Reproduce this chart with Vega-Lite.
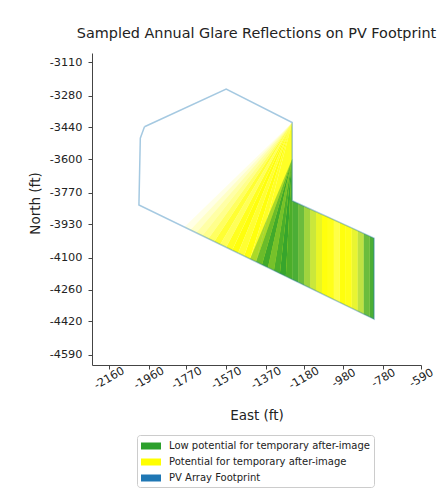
{
  "$schema": "https://vega.github.io/schema/vega-lite/v6.json",
  "autosize": "none",
  "width": 329,
  "height": 312,
  "padding": {"left": 92, "top": 53, "right": 23, "bottom": 134},
  "background": "white",
  "config": {"view": {"stroke": null}},
  "title": {"text": "Sampled Annual Glare Reflections on PV Footprint", "font": "DejaVu Sans", "fontSize": 14.4, "fontWeight": "normal", "color": "#222", "anchor": "middle", "offset": 12},
  "datasets": {
    "glare": [
      {"poly": "y0", "glare": "Potential for temporary after-image", "density": 0.1, "order": 1, "east": -1238, "north": -3415},
      {"poly": "y0", "glare": "Potential for temporary after-image", "density": 0.1, "order": 2, "east": -1780, "north": -3944},
      {"poly": "y0", "glare": "Potential for temporary after-image", "density": 0.1, "order": 3, "east": -1750, "north": -3958.5},
      {"poly": "y1", "glare": "Potential for temporary after-image", "density": 0.22, "order": 1, "east": -1238, "north": -3415},
      {"poly": "y1", "glare": "Potential for temporary after-image", "density": 0.22, "order": 2, "east": -1750, "north": -3958.5},
      {"poly": "y1", "glare": "Potential for temporary after-image", "density": 0.22, "order": 3, "east": -1720, "north": -3973.2},
      {"poly": "y2", "glare": "Potential for temporary after-image", "density": 0.35, "order": 1, "east": -1238, "north": -3415},
      {"poly": "y2", "glare": "Potential for temporary after-image", "density": 0.35, "order": 2, "east": -1720, "north": -3973.2},
      {"poly": "y2", "glare": "Potential for temporary after-image", "density": 0.35, "order": 3, "east": -1690, "north": -3987.9},
      {"poly": "y3", "glare": "Potential for temporary after-image", "density": 0.45, "order": 1, "east": -1238, "north": -3415},
      {"poly": "y3", "glare": "Potential for temporary after-image", "density": 0.45, "order": 2, "east": -1690, "north": -3987.9},
      {"poly": "y3", "glare": "Potential for temporary after-image", "density": 0.45, "order": 3, "east": -1660, "north": -4002.5},
      {"poly": "y4", "glare": "Potential for temporary after-image", "density": 0.62, "order": 1, "east": -1238, "north": -3415},
      {"poly": "y4", "glare": "Potential for temporary after-image", "density": 0.62, "order": 2, "east": -1660, "north": -4002.5},
      {"poly": "y4", "glare": "Potential for temporary after-image", "density": 0.62, "order": 3, "east": -1630, "north": -4017.2},
      {"poly": "y5", "glare": "Potential for temporary after-image", "density": 0.8, "order": 1, "east": -1238, "north": -3415},
      {"poly": "y5", "glare": "Potential for temporary after-image", "density": 0.8, "order": 2, "east": -1630, "north": -4017.2},
      {"poly": "y5", "glare": "Potential for temporary after-image", "density": 0.8, "order": 3, "east": -1600, "north": -4031.8},
      {"poly": "y6", "glare": "Potential for temporary after-image", "density": 0.65, "order": 1, "east": -1238, "north": -3415},
      {"poly": "y6", "glare": "Potential for temporary after-image", "density": 0.65, "order": 2, "east": -1600, "north": -4031.8},
      {"poly": "y6", "glare": "Potential for temporary after-image", "density": 0.65, "order": 3, "east": -1570, "north": -4046.5},
      {"poly": "y7", "glare": "Potential for temporary after-image", "density": 0.88, "order": 1, "east": -1238, "north": -3415},
      {"poly": "y7", "glare": "Potential for temporary after-image", "density": 0.88, "order": 2, "east": -1570, "north": -4046.5},
      {"poly": "y7", "glare": "Potential for temporary after-image", "density": 0.88, "order": 3, "east": -1540, "north": -4061.2},
      {"poly": "y8", "glare": "Potential for temporary after-image", "density": 0.95, "order": 1, "east": -1238, "north": -3415},
      {"poly": "y8", "glare": "Potential for temporary after-image", "density": 0.95, "order": 2, "east": -1540, "north": -4061.2},
      {"poly": "y8", "glare": "Potential for temporary after-image", "density": 0.95, "order": 3, "east": -1510, "north": -4075.8},
      {"poly": "y9", "glare": "Potential for temporary after-image", "density": 0.8, "order": 1, "east": -1238, "north": -3415},
      {"poly": "y9", "glare": "Potential for temporary after-image", "density": 0.8, "order": 2, "east": -1510, "north": -4075.8},
      {"poly": "y9", "glare": "Potential for temporary after-image", "density": 0.8, "order": 3, "east": -1480, "north": -4090.5},
      {"poly": "y10", "glare": "Potential for temporary after-image", "density": 0.95, "order": 1, "east": -1238, "north": -3415},
      {"poly": "y10", "glare": "Potential for temporary after-image", "density": 0.95, "order": 2, "east": -1480, "north": -4090.5},
      {"poly": "y10", "glare": "Potential for temporary after-image", "density": 0.95, "order": 3, "east": -1450, "north": -4105.1},
      {"poly": "y11", "glare": "Potential for temporary after-image", "density": 0.85, "order": 1, "east": -1238, "north": -3415},
      {"poly": "y11", "glare": "Potential for temporary after-image", "density": 0.85, "order": 2, "east": -1450, "north": -4105.1},
      {"poly": "y11", "glare": "Potential for temporary after-image", "density": 0.85, "order": 3, "east": -1420, "north": -4119.8},
      {"poly": "y12", "glare": "Potential for temporary after-image", "density": 0.85, "order": 1, "east": -1238, "north": -3415},
      {"poly": "y12", "glare": "Potential for temporary after-image", "density": 0.85, "order": 2, "east": -1420, "north": -4119.8},
      {"poly": "y12", "glare": "Potential for temporary after-image", "density": 0.85, "order": 3, "east": -1238, "north": -4208.7},
      {"poly": "g0", "glare": "Low potential for temporary after-image", "density": 0.4, "order": 1, "east": -1238, "north": -3600},
      {"poly": "g0", "glare": "Low potential for temporary after-image", "density": 0.4, "order": 2, "east": -1450, "north": -4105.1},
      {"poly": "g0", "glare": "Low potential for temporary after-image", "density": 0.4, "order": 3, "east": -1420, "north": -4119.8},
      {"poly": "g1", "glare": "Low potential for temporary after-image", "density": 0.7, "order": 1, "east": -1238, "north": -3600},
      {"poly": "g1", "glare": "Low potential for temporary after-image", "density": 0.7, "order": 2, "east": -1420, "north": -4119.8},
      {"poly": "g1", "glare": "Low potential for temporary after-image", "density": 0.7, "order": 3, "east": -1390, "north": -4134.4},
      {"poly": "g2", "glare": "Low potential for temporary after-image", "density": 0.9, "order": 1, "east": -1238, "north": -3600},
      {"poly": "g2", "glare": "Low potential for temporary after-image", "density": 0.9, "order": 2, "east": -1390, "north": -4134.4},
      {"poly": "g2", "glare": "Low potential for temporary after-image", "density": 0.9, "order": 3, "east": -1360, "north": -4149.1},
      {"poly": "g3", "glare": "Low potential for temporary after-image", "density": 0.65, "order": 1, "east": -1238, "north": -3600},
      {"poly": "g3", "glare": "Low potential for temporary after-image", "density": 0.65, "order": 2, "east": -1360, "north": -4149.1},
      {"poly": "g3", "glare": "Low potential for temporary after-image", "density": 0.65, "order": 3, "east": -1330, "north": -4163.8},
      {"poly": "g4", "glare": "Low potential for temporary after-image", "density": 0.85, "order": 1, "east": -1238, "north": -3600},
      {"poly": "g4", "glare": "Low potential for temporary after-image", "density": 0.85, "order": 2, "east": -1330, "north": -4163.8},
      {"poly": "g4", "glare": "Low potential for temporary after-image", "density": 0.85, "order": 3, "east": -1300, "north": -4178.4},
      {"poly": "g5", "glare": "Low potential for temporary after-image", "density": 0.95, "order": 1, "east": -1238, "north": -3600},
      {"poly": "g5", "glare": "Low potential for temporary after-image", "density": 0.95, "order": 2, "east": -1300, "north": -4178.4},
      {"poly": "g5", "glare": "Low potential for temporary after-image", "density": 0.95, "order": 3, "east": -1270, "north": -4193.1},
      {"poly": "g6", "glare": "Low potential for temporary after-image", "density": 0.85, "order": 1, "east": -1238, "north": -3600},
      {"poly": "g6", "glare": "Low potential for temporary after-image", "density": 0.85, "order": 2, "east": -1270, "north": -4193.1},
      {"poly": "g6", "glare": "Low potential for temporary after-image", "density": 0.85, "order": 3, "east": -1238, "north": -4208.7},

      {"poly": "py0", "glare": "Potential for temporary after-image", "density": 0.55, "order": 1, "east": -1238, "north": -4208.7},
      {"poly": "py0", "glare": "Potential for temporary after-image", "density": 0.55, "order": 2, "east": -1208, "north": -4223.4},
      {"poly": "py0", "glare": "Potential for temporary after-image", "density": 0.55, "order": 3, "east": -1208, "north": -3824.8},
      {"poly": "py0", "glare": "Potential for temporary after-image", "density": 0.55, "order": 4, "east": -1238, "north": -3811},
      {"poly": "py1", "glare": "Potential for temporary after-image", "density": 0.6, "order": 1, "east": -1208, "north": -4223.4},
      {"poly": "py1", "glare": "Potential for temporary after-image", "density": 0.6, "order": 2, "east": -1178, "north": -4238.0},
      {"poly": "py1", "glare": "Potential for temporary after-image", "density": 0.6, "order": 3, "east": -1178, "north": -3838.5},
      {"poly": "py1", "glare": "Potential for temporary after-image", "density": 0.6, "order": 4, "east": -1208, "north": -3824.8},
      {"poly": "py2", "glare": "Potential for temporary after-image", "density": 0.7, "order": 1, "east": -1178, "north": -4238.0},
      {"poly": "py2", "glare": "Potential for temporary after-image", "density": 0.7, "order": 2, "east": -1148, "north": -4252.7},
      {"poly": "py2", "glare": "Potential for temporary after-image", "density": 0.7, "order": 3, "east": -1148, "north": -3852.3},
      {"poly": "py2", "glare": "Potential for temporary after-image", "density": 0.7, "order": 4, "east": -1178, "north": -3838.5},
      {"poly": "py3", "glare": "Potential for temporary after-image", "density": 0.75, "order": 1, "east": -1148, "north": -4252.7},
      {"poly": "py3", "glare": "Potential for temporary after-image", "density": 0.75, "order": 2, "east": -1118, "north": -4267.3},
      {"poly": "py3", "glare": "Potential for temporary after-image", "density": 0.75, "order": 3, "east": -1118, "north": -3866.0},
      {"poly": "py3", "glare": "Potential for temporary after-image", "density": 0.75, "order": 4, "east": -1148, "north": -3852.3},
      {"poly": "py4", "glare": "Potential for temporary after-image", "density": 0.85, "order": 1, "east": -1118, "north": -4267.3},
      {"poly": "py4", "glare": "Potential for temporary after-image", "density": 0.85, "order": 2, "east": -1088, "north": -4282.0},
      {"poly": "py4", "glare": "Potential for temporary after-image", "density": 0.85, "order": 3, "east": -1088, "north": -3879.8},
      {"poly": "py4", "glare": "Potential for temporary after-image", "density": 0.85, "order": 4, "east": -1118, "north": -3866.0},
      {"poly": "py5", "glare": "Potential for temporary after-image", "density": 0.95, "order": 1, "east": -1088, "north": -4282.0},
      {"poly": "py5", "glare": "Potential for temporary after-image", "density": 0.95, "order": 2, "east": -1058, "north": -4296.7},
      {"poly": "py5", "glare": "Potential for temporary after-image", "density": 0.95, "order": 3, "east": -1058, "north": -3893.6},
      {"poly": "py5", "glare": "Potential for temporary after-image", "density": 0.95, "order": 4, "east": -1088, "north": -3879.8},
      {"poly": "py6", "glare": "Potential for temporary after-image", "density": 0.9, "order": 1, "east": -1058, "north": -4296.7},
      {"poly": "py6", "glare": "Potential for temporary after-image", "density": 0.9, "order": 2, "east": -1028, "north": -4311.3},
      {"poly": "py6", "glare": "Potential for temporary after-image", "density": 0.9, "order": 3, "east": -1028, "north": -3907.3},
      {"poly": "py6", "glare": "Potential for temporary after-image", "density": 0.9, "order": 4, "east": -1058, "north": -3893.6},
      {"poly": "py7", "glare": "Potential for temporary after-image", "density": 0.72, "order": 1, "east": -1028, "north": -4311.3},
      {"poly": "py7", "glare": "Potential for temporary after-image", "density": 0.72, "order": 2, "east": -998, "north": -4326.0},
      {"poly": "py7", "glare": "Potential for temporary after-image", "density": 0.72, "order": 3, "east": -998, "north": -3921.1},
      {"poly": "py7", "glare": "Potential for temporary after-image", "density": 0.72, "order": 4, "east": -1028, "north": -3907.3},
      {"poly": "py8", "glare": "Potential for temporary after-image", "density": 0.95, "order": 1, "east": -998, "north": -4326.0},
      {"poly": "py8", "glare": "Potential for temporary after-image", "density": 0.95, "order": 2, "east": -968, "north": -4340.6},
      {"poly": "py8", "glare": "Potential for temporary after-image", "density": 0.95, "order": 3, "east": -968, "north": -3934.8},
      {"poly": "py8", "glare": "Potential for temporary after-image", "density": 0.95, "order": 4, "east": -998, "north": -3921.1},
      {"poly": "py9", "glare": "Potential for temporary after-image", "density": 0.9, "order": 1, "east": -968, "north": -4340.6},
      {"poly": "py9", "glare": "Potential for temporary after-image", "density": 0.9, "order": 2, "east": -938, "north": -4355.3},
      {"poly": "py9", "glare": "Potential for temporary after-image", "density": 0.9, "order": 3, "east": -938, "north": -3948.6},
      {"poly": "py9", "glare": "Potential for temporary after-image", "density": 0.9, "order": 4, "east": -968, "north": -3934.8},
      {"poly": "py10", "glare": "Potential for temporary after-image", "density": 0.8, "order": 1, "east": -938, "north": -4355.3},
      {"poly": "py10", "glare": "Potential for temporary after-image", "density": 0.8, "order": 2, "east": -908, "north": -4369.9},
      {"poly": "py10", "glare": "Potential for temporary after-image", "density": 0.8, "order": 3, "east": -908, "north": -3962.4},
      {"poly": "py10", "glare": "Potential for temporary after-image", "density": 0.8, "order": 4, "east": -938, "north": -3948.6},
      {"poly": "py11", "glare": "Potential for temporary after-image", "density": 0.7, "order": 1, "east": -908, "north": -4369.9},
      {"poly": "py11", "glare": "Potential for temporary after-image", "density": 0.7, "order": 2, "east": -878, "north": -4384.6},
      {"poly": "py11", "glare": "Potential for temporary after-image", "density": 0.7, "order": 3, "east": -878, "north": -3976.1},
      {"poly": "py11", "glare": "Potential for temporary after-image", "density": 0.7, "order": 4, "east": -908, "north": -3962.4},
      {"poly": "py12", "glare": "Potential for temporary after-image", "density": 0.6, "order": 1, "east": -878, "north": -4384.6},
      {"poly": "py12", "glare": "Potential for temporary after-image", "density": 0.6, "order": 2, "east": -848, "north": -4399.3},
      {"poly": "py12", "glare": "Potential for temporary after-image", "density": 0.6, "order": 3, "east": -848, "north": -3989.9},
      {"poly": "py12", "glare": "Potential for temporary after-image", "density": 0.6, "order": 4, "east": -878, "north": -3976.1},
      {"poly": "py13", "glare": "Potential for temporary after-image", "density": 0.55, "order": 1, "east": -848, "north": -4399.3},
      {"poly": "py13", "glare": "Potential for temporary after-image", "density": 0.55, "order": 2, "east": -826, "north": -4410.0},
      {"poly": "py13", "glare": "Potential for temporary after-image", "density": 0.55, "order": 3, "east": -826, "north": -4000.0},
      {"poly": "py13", "glare": "Potential for temporary after-image", "density": 0.55, "order": 4, "east": -848, "north": -3989.9},

      {"poly": "pg0", "glare": "Low potential for temporary after-image", "density": 0.85, "order": 1, "east": -1238, "north": -4208.7},
      {"poly": "pg0", "glare": "Low potential for temporary after-image", "density": 0.85, "order": 2, "east": -1208, "north": -4223.4},
      {"poly": "pg0", "glare": "Low potential for temporary after-image", "density": 0.85, "order": 3, "east": -1208, "north": -3824.8},
      {"poly": "pg0", "glare": "Low potential for temporary after-image", "density": 0.85, "order": 4, "east": -1238, "north": -3811},
      {"poly": "pg1", "glare": "Low potential for temporary after-image", "density": 0.7, "order": 1, "east": -1208, "north": -4223.4},
      {"poly": "pg1", "glare": "Low potential for temporary after-image", "density": 0.7, "order": 2, "east": -1178, "north": -4238.0},
      {"poly": "pg1", "glare": "Low potential for temporary after-image", "density": 0.7, "order": 3, "east": -1178, "north": -3838.5},
      {"poly": "pg1", "glare": "Low potential for temporary after-image", "density": 0.7, "order": 4, "east": -1208, "north": -3824.8},
      {"poly": "pg2", "glare": "Low potential for temporary after-image", "density": 0.45, "order": 1, "east": -1178, "north": -4238.0},
      {"poly": "pg2", "glare": "Low potential for temporary after-image", "density": 0.45, "order": 2, "east": -1148, "north": -4252.7},
      {"poly": "pg2", "glare": "Low potential for temporary after-image", "density": 0.45, "order": 3, "east": -1148, "north": -3852.3},
      {"poly": "pg2", "glare": "Low potential for temporary after-image", "density": 0.45, "order": 4, "east": -1178, "north": -3838.5},
      {"poly": "pg3", "glare": "Low potential for temporary after-image", "density": 0.25, "order": 1, "east": -1148, "north": -4252.7},
      {"poly": "pg3", "glare": "Low potential for temporary after-image", "density": 0.25, "order": 2, "east": -1118, "north": -4267.3},
      {"poly": "pg3", "glare": "Low potential for temporary after-image", "density": 0.25, "order": 3, "east": -1118, "north": -3866.0},
      {"poly": "pg3", "glare": "Low potential for temporary after-image", "density": 0.25, "order": 4, "east": -1148, "north": -3852.3},
      {"poly": "pg4", "glare": "Low potential for temporary after-image", "density": 0.1, "order": 1, "east": -1118, "north": -4267.3},
      {"poly": "pg4", "glare": "Low potential for temporary after-image", "density": 0.1, "order": 2, "east": -1088, "north": -4282.0},
      {"poly": "pg4", "glare": "Low potential for temporary after-image", "density": 0.1, "order": 3, "east": -1088, "north": -3879.8},
      {"poly": "pg4", "glare": "Low potential for temporary after-image", "density": 0.1, "order": 4, "east": -1118, "north": -3866.0},
      {"poly": "pg10", "glare": "Low potential for temporary after-image", "density": 0.1, "order": 1, "east": -938, "north": -4355.3},
      {"poly": "pg10", "glare": "Low potential for temporary after-image", "density": 0.1, "order": 2, "east": -908, "north": -4369.9},
      {"poly": "pg10", "glare": "Low potential for temporary after-image", "density": 0.1, "order": 3, "east": -908, "north": -3962.4},
      {"poly": "pg10", "glare": "Low potential for temporary after-image", "density": 0.1, "order": 4, "east": -938, "north": -3948.6},
      {"poly": "pg11", "glare": "Low potential for temporary after-image", "density": 0.3, "order": 1, "east": -908, "north": -4369.9},
      {"poly": "pg11", "glare": "Low potential for temporary after-image", "density": 0.3, "order": 2, "east": -878, "north": -4384.6},
      {"poly": "pg11", "glare": "Low potential for temporary after-image", "density": 0.3, "order": 3, "east": -878, "north": -3976.1},
      {"poly": "pg11", "glare": "Low potential for temporary after-image", "density": 0.3, "order": 4, "east": -908, "north": -3962.4},
      {"poly": "pg12", "glare": "Low potential for temporary after-image", "density": 0.7, "order": 1, "east": -878, "north": -4384.6},
      {"poly": "pg12", "glare": "Low potential for temporary after-image", "density": 0.7, "order": 2, "east": -848, "north": -4399.3},
      {"poly": "pg12", "glare": "Low potential for temporary after-image", "density": 0.7, "order": 3, "east": -848, "north": -3989.9},
      {"poly": "pg12", "glare": "Low potential for temporary after-image", "density": 0.7, "order": 4, "east": -878, "north": -3976.1},
      {"poly": "pg13", "glare": "Low potential for temporary after-image", "density": 0.85, "order": 1, "east": -848, "north": -4399.3},
      {"poly": "pg13", "glare": "Low potential for temporary after-image", "density": 0.85, "order": 2, "east": -826, "north": -4410.0},
      {"poly": "pg13", "glare": "Low potential for temporary after-image", "density": 0.85, "order": 3, "east": -826, "north": -4000.0},
      {"poly": "pg13", "glare": "Low potential for temporary after-image", "density": 0.85, "order": 4, "east": -848, "north": -3989.9}
    ],
    "footprint": [
      {"order": 1, "east": -1981, "north": -3436},
      {"order": 2, "east": -1570, "north": -3246},
      {"order": 3, "east": -1238, "north": -3415},
      {"order": 4, "east": -1238, "north": -3811},
      {"order": 5, "east": -826, "north": -4000},
      {"order": 6, "east": -826, "north": -4410},
      {"order": 7, "east": -2009, "north": -3832},
      {"order": 8, "east": -2002, "north": -3494},
      {"order": 9, "east": -1981, "north": -3436}
    ]
  },
  "encoding": {
    "x": {"field": "east", "type": "quantitative", "scale": {"domain": [-2245, -590], "nice": false, "zero": false},
      "axis": {"title": "East (ft)", "values": [-2160, -1960, -1770, -1570, -1370, -1180, -980, -780, -590], "grid": false,
        "labelExpr": "'-' + format(abs(datum.value), 'd')",
        "domainColor": "#444", "tickColor": "#444", "tickSize": 4, "labelAngle": -30, "labelAlign": "center", "labelBaseline": "middle", "labelPadding": 9,
        "labelFlush": false, "labelOverlap": false, "labelBound": false, "labelFont": "DejaVu Sans", "labelFontSize": 11.3, "labelColor": "#222",
        "titleFont": "DejaVu Sans", "titleFontSize": 13.5, "titleFontWeight": "normal", "titleColor": "#222", "titleY": 50, "titleBaseline": "middle"}},
    "y": {"field": "north", "type": "quantitative", "scale": {"domain": [-4642, -3063], "nice": false, "zero": false},
      "axis": {"title": "North (ft)", "values": [-3110, -3280, -3440, -3600, -3770, -3930, -4100, -4260, -4420, -4590], "grid": false,
        "labelExpr": "'-' + format(abs(datum.value), 'd')",
        "domainColor": "#444", "tickColor": "#444", "tickSize": 4, "labelPadding": 6,
        "labelFlush": false, "labelOverlap": false, "labelBound": false, "labelFont": "DejaVu Sans", "labelFontSize": 11.3, "labelColor": "#222",
        "titleFont": "DejaVu Sans", "titleFontSize": 13.5, "titleFontWeight": "normal", "titleColor": "#222", "titleX": -57, "titleY": 150, "titleBaseline": "middle"}},
    "order": {"field": "order", "type": "quantitative"}
  },
  "layer": [
    {
      "data": {"name": "glare"},
      "transform": [{"filter": "datum.glare === 'Potential for temporary after-image'"}],
      "mark": {"type": "line", "filled": true, "strokeWidth": 0},
      "encoding": {
        "detail": {"field": "poly"},
        "color": {"field": "glare", "type": "nominal",
          "scale": {"domain": ["Low potential for temporary after-image", "Potential for temporary after-image", "PV Array Footprint"], "range": ["#2ca02c", "#ffff00", "#1f77b4"]},
          "legend": {"title": null, "orient": "none", "legendX": 45, "legendY": 382, "symbolType": "M-1.43,-0.5h2.86v1h-2.86z", "symbolSize": 196,
            "symbolStrokeWidth": 0, "symbolOpacity": 1, "padding": 4, "symbolOffset": 3, "labelOffset": 11, "rowPadding": 4,
            "labelFont": "DejaVu Sans", "labelFontSize": 10, "labelColor": "#222", "strokeColor": "#ccc", "cornerRadius": 3, "fillColor": "white",
            "labelLimit": 400}},
        "opacity": {"field": "density", "type": "quantitative", "scale": {"domain": [0, 1], "range": [0, 1]}, "legend": null}
      }
    },
    {
      "data": {"name": "glare"},
      "transform": [{"filter": "datum.glare === 'Low potential for temporary after-image'"}],
      "mark": {"type": "line", "filled": true, "strokeWidth": 0},
      "encoding": {
        "detail": {"field": "poly"},
        "color": {"field": "glare", "type": "nominal"},
        "opacity": {"field": "density", "type": "quantitative", "legend": null}
      }
    },
    {
      "data": {"name": "footprint"},
      "mark": {"type": "line", "stroke": "#1f77b4", "opacity": 0.4, "strokeWidth": 1.5},
      "encoding": {}
    }
  ]
}
